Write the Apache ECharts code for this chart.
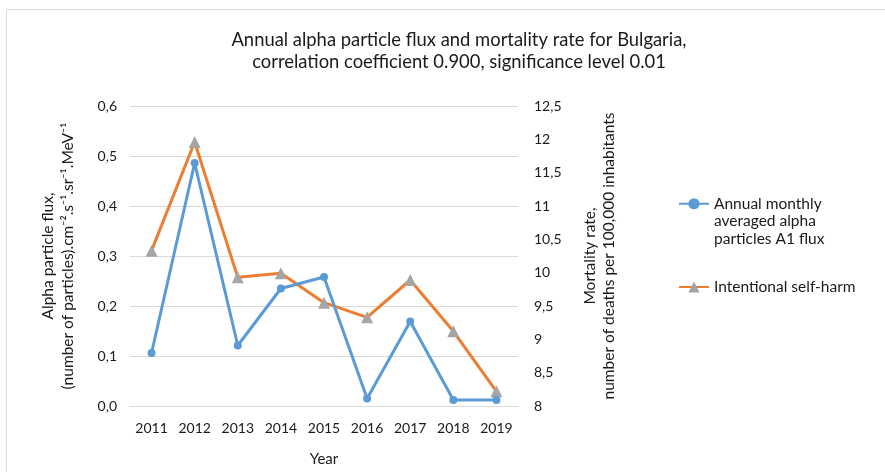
<!DOCTYPE html>
<html>
<head>
<meta charset="utf-8">
<script src="https://cdn.jsdelivr.net/npm/echarts@6/dist/echarts.min.js"></script>
<style>
  html, body { margin: 0; padding: 0; background: #fff; }
  #chart { width: 885px; height: 472px; }
</style>
</head>
<body>
<div id="chart"></div>
<script>
const years = ['2011', '2012', '2013', '2014', '2015', '2016', '2017', '2018', '2019'];
// alpha particle flux, left axis
const alphaFlux = [0.106, 0.486, 0.121, 0.235, 0.258, 0.015, 0.169, 0.012, 0.012];
// intentional self-harm mortality, right axis
const selfHarm = [10.33, 11.96, 9.93, 9.99, 9.55, 9.33, 9.89, 9.12, 8.22];

const FONT = 'Lato, "Open Sans", sans-serif';
const TXT = '#1a1a1a';
const GRID_COLOR = '#d9d9d9';

const chart = echarts.init(document.getElementById('chart'));

const option = {
  animation: false,
  textStyle: { fontFamily: FONT, color: TXT },
  title: {
    text: 'Annual alpha particle flux and mortality rate for Bulgaria,\ncorrelation coefficient 0.900, significance level 0.01',
    // with textAlign centre, left is the centre of the title
    left: 454,
    top: 24,
    textAlign: 'center',
    textStyle: { fontFamily: FONT, fontSize: 18.4, fontWeight: 'normal', color: TXT, lineHeight: 22 },
  },
  graphic: [{
    type: 'rect',
    silent: true,
    shape: { x: 6.5, y: 9.5, width: 900, height: 500 },
    style: { fill: null, stroke: GRID_COLOR, lineWidth: 1 },
  }],
  legend: [{
    orient: 'vertical',
    left: 673,
    top: 155,
    itemWidth: 30,
    itemHeight: 14,
    data: ['Annual monthly\naveraged alpha\nparticles A1 flux'],
    // two blank lines in front so the icon sits on the first text line
    formatter: (name) => '\n\n' + name,
    textStyle: { fontFamily: FONT, fontSize: 15.5, color: TXT, lineHeight: 17.5 },
  }, {
    orient: 'vertical',
    left: 673,
    top: 274,
    itemWidth: 30,
    itemHeight: 14,
    data: ['Intentional self-harm'],
    textStyle: { fontFamily: FONT, fontSize: 15.5, color: TXT },
  }],
  grid: { left: 130, right: 367, top: 106, bottom: 65 },
  xAxis: {
    type: 'category',
    data: years,
    name: 'Year',
    nameLocation: 'middle',
    nameGap: 46,
    nameTextStyle: { fontFamily: FONT, fontSize: 15, color: TXT },
    axisLine: { lineStyle: { color: GRID_COLOR } },
    axisTick: { show: false },
    axisLabel: { fontFamily: FONT, fontSize: 14, color: TXT, margin: 15 },
  },
  yAxis: [{
    type: 'value',
    min: 0,
    max: 0.6,
    interval: 0.1,
    name: 'Alpha particle flux,\n(number of particles).cm\u207B\u00B2.s\u207B\u00B9.sr\u207B\u00B9.MeV\u207B\u00B9',
    nameLocation: 'middle',
    nameRotate: 90,
    nameGap: 52,
    nameTextStyle: { fontFamily: FONT, fontSize: 15.5, color: TXT, lineHeight: 20 },
    axisLine: { show: false },
    axisTick: { show: false },
    splitLine: { lineStyle: { color: GRID_COLOR } },
    axisLabel: {
      fontFamily: FONT, fontSize: 14, color: TXT, margin: 13,
      formatter: (v) => v.toFixed(1).replace('.', ','),
    },
  }, {
    type: 'value',
    min: 8,
    max: 12.5,
    interval: 0.5,
    position: 'right',
    name: 'Mortality rate,\nnumber of deaths per 100,000 inhabitants',
    nameLocation: 'middle',
    nameRotate: 90,
    nameGap: 62,
    nameTextStyle: { fontFamily: FONT, fontSize: 15.5, color: TXT, lineHeight: 19 },
    axisLine: { show: false },
    axisTick: { show: false },
    splitLine: { show: false },
    axisLabel: {
      fontFamily: FONT, fontSize: 14, color: TXT, margin: 16,
      formatter: (v) => String(Math.round(v * 10) / 10).replace('.', ','),
    },
  }],
  series: [{
    name: 'Annual monthly\naveraged alpha\nparticles A1 flux',
    type: 'line',
    yAxisIndex: 0,
    data: alphaFlux,
    symbol: 'circle',
    symbolSize: 8,
    lineStyle: { color: '#5b9bd5', width: 3 },
    itemStyle: { color: '#5b9bd5' },
    z: 3,
  }, {
    name: 'Intentional self-harm',
    type: 'line',
    yAxisIndex: 1,
    data: selfHarm,
    symbol: 'triangle',
    symbolSize: 12,
    lineStyle: { color: '#ed7d31', width: 3 },
    itemStyle: { color: '#a5a5a5' },
    z: 2,
  }],
};

chart.setOption(option);
</script>
</body>
</html>
